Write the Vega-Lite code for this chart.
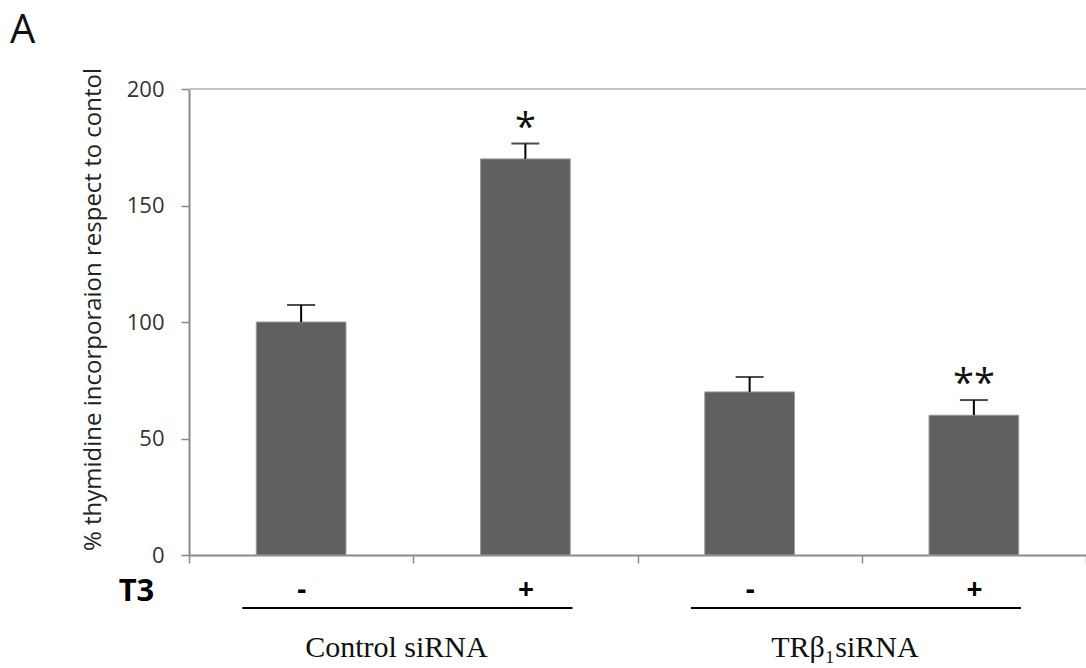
{
  "$schema": "https://vega.github.io/schema/vega-lite/v6.json",
  "width": 897,
  "height": 466,
  "autosize": {"type": "none"},
  "padding": {"left": 189, "top": 89, "right": 0, "bottom": 113},
  "background": "white",
  "title": {
    "text": "A",
    "anchor": "start",
    "frame": "group",
    "dx": -179,
    "dy": 52,
    "offset": 36,
    "baseline": "alphabetic",
    "font": "Open Sans",
    "fontSize": 40,
    "fontWeight": "normal",
    "color": "#111111"
  },
  "config": {"view": {"stroke": null}, "font": "Open Sans"},
  "datasets": {
    "bars": [
      {"cond": "C-", "value": 100, "upper": 107.3, "sig": ""},
      {"cond": "C+", "value": 170, "upper": 176.6, "sig": "*"},
      {"cond": "T-", "value": 70, "upper": 76.4, "sig": ""},
      {"cond": "T+", "value": 60, "upper": 66.5, "sig": "**"}
    ],
    "groups": [
      {"group": "Control siRNA", "from": "C-", "to": "C+"},
      {"group": "TRβ₁siRNA", "from": "T-", "to": "T+"}
    ]
  },
  "data": {"name": "bars"},
  "layer": [
    {
      "mark": {"type": "rule", "stroke": "#c4c4c4", "strokeWidth": 2},
      "encoding": {"y": {"datum": 200, "type": "quantitative"}}
    },
    {
      "mark": {"type": "bar", "fill": "#606060", "stroke": "#9a9a9a", "strokeWidth": 1, "width": {"band": 0.4}},
      "encoding": {
        "x": {
          "field": "cond",
          "type": "nominal",
          "scale": {"domain": ["C-", "C+", "T-", "T+"], "paddingInner": 0, "paddingOuter": 0},
          "axis": {
            "title": "T3",
            "tickBand": "extent",
            "labelExpr": "substring(datum.label, 1)",
            "labelAngle": 0,
            "labelFont": "Open Sans",
            "labelFontWeight": "bold",
            "labelFontSize": 28,
            "labelColor": "#000000",
            "labelBaseline": "middle",
            "labelPadding": 27,
            "tickSize": 8,
            "tickColor": "#898989",
            "tickWidth": 1.5,
            "domainColor": "#898989",
            "domainWidth": 2,
            "titleFont": "Open Sans",
            "titleFontWeight": "bold",
            "titleFontSize": 31,
            "titleColor": "#000000",
            "titleX": -53,
            "titleY": 36,
            "titleAlign": "center",
            "titleBaseline": "middle"
          }
        },
        "y": {
          "field": "value",
          "type": "quantitative",
          "scale": {"domain": [0, 200], "nice": false},
          "axis": {
            "title": "% thymidine incorporaion respect to contol",
            "values": [0, 50, 100, 150, 200],
            "grid": false,
            "tickSize": 8,
            "tickColor": "#898989",
            "tickWidth": 1.5,
            "domainColor": "#898989",
            "domainWidth": 2,
            "labelPadding": 17,
            "labelFont": "Open Sans",
            "labelFontSize": 22,
            "labelColor": "#333333",
            "titleFont": "Open Sans",
            "titleFontSize": 24,
            "titleFontWeight": "normal",
            "titleColor": "#222222",
            "titleX": -96,
            "titleY": 220,
            "titleAlign": "center",
            "titleBaseline": "middle"
          }
        }
      }
    },
    {
      "mark": {"type": "rule", "stroke": "#000000", "strokeWidth": 2},
      "encoding": {
        "x": {"field": "cond", "type": "nominal"},
        "y": {"field": "value", "type": "quantitative"},
        "y2": {"field": "upper"}
      }
    },
    {
      "mark": {"type": "tick", "color": "#000000", "size": 28, "thickness": 2},
      "encoding": {
        "x": {"field": "cond", "type": "nominal"},
        "y": {"field": "upper", "type": "quantitative"}
      }
    },
    {
      "mark": {"type": "text", "font": "Open Sans", "fontSize": 38, "baseline": "alphabetic", "dy": -4, "color": "#111111", "letterSpacing": 3},
      "encoding": {
        "x": {"field": "cond", "type": "nominal"},
        "y": {"field": "upper", "type": "quantitative"},
        "text": {"field": "sig"}
      }
    },
    {
      "data": {"name": "groups"},
      "layer": [
        {
          "mark": {"type": "rule", "stroke": "#000000", "strokeWidth": 2},
          "encoding": {
            "x": {"field": "from", "type": "nominal", "bandPosition": 0.238},
            "x2": {"field": "to", "bandPosition": 0.71},
            "y": {"datum": -22.7, "type": "quantitative"}
          }
        },
        {
          "mark": {"type": "text", "font": "Liberation Serif", "fontSize": 30, "baseline": "alphabetic", "color": "#111111"},
          "encoding": {
            "x": {"field": "from", "type": "nominal", "bandPosition": 0.925},
            "y": {"datum": -43.8, "type": "quantitative"},
            "text": {"field": "group"}
          }
        }
      ]
    }
  ]
}
